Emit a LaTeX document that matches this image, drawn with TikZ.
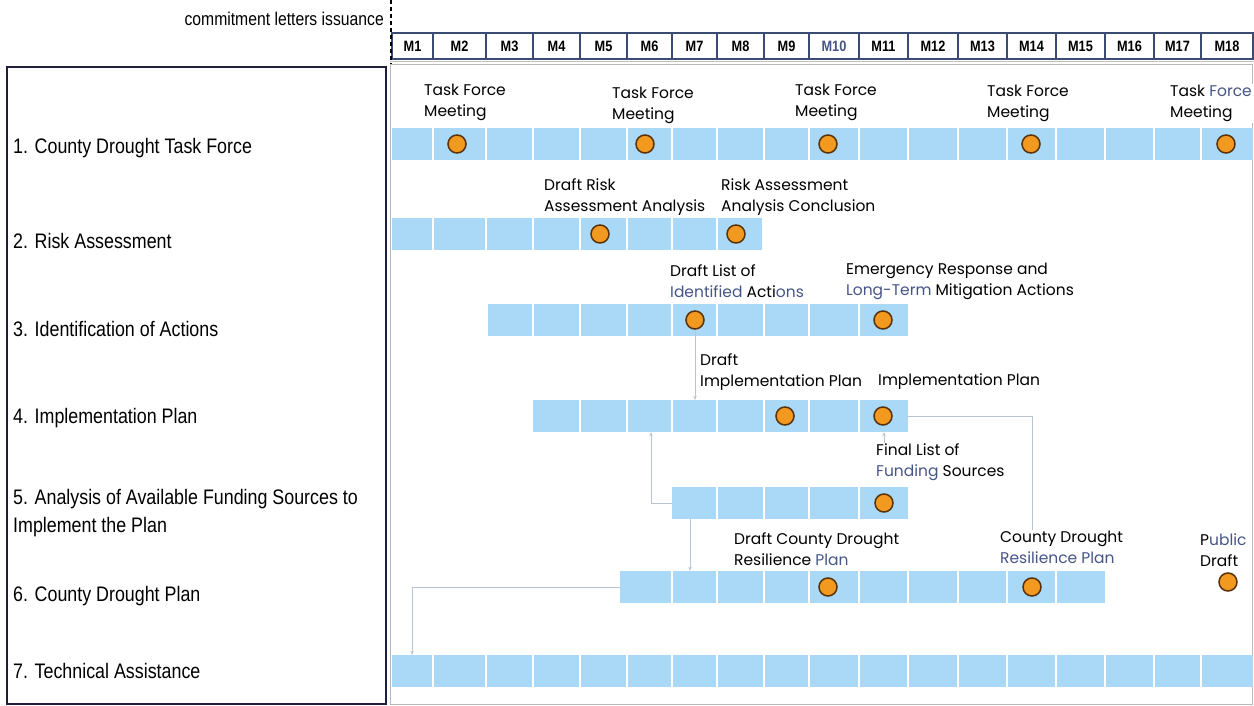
\documentclass[tikz,border=0pt]{standalone}
\usepackage{fontspec}
\setmainfont{Liberation Sans}
\newfontfamily\condf[FakeStretch=0.85]{Liberation Sans}
\newfontfamily\lblf{Poppins}
\usetikzlibrary{arrows.meta,backgrounds}
\definecolor{barblue}{RGB}{170,217,247}
\definecolor{msorange}{RGB}{242,154,31}
\definecolor{msbrown}{RGB}{90,50,8}
\definecolor{headline}{RGB}{60,75,115}
\definecolor{conncol}{RGB}{185,195,210}
\definecolor{faintcol}{RGB}{228,232,236}
\definecolor{lblue}{RGB}{70,85,135}
\definecolor{boxcol}{RGB}{30,30,60}
\begin{document}
\begin{tikzpicture}[x=1pt,y=-1pt,
  bar/.style={fill=barblue, draw=none, inner sep=0pt, minimum height=32pt, anchor=west},
  ms/.style={circle, fill=msorange, draw=msbrown, line width=1.5pt, minimum size=18pt, inner sep=0pt},
  lbl/.style={anchor=west, align=left, font=\lblf\fontsize{15.5}{21}\selectfont, inner sep=1pt, fill=white},
  task/.style={anchor=west, align=left, font=\condf\fontsize{21}{28}\selectfont, inner sep=0pt},
  hcell/.style={draw=headline, line width=1.1pt, fill=white, inner sep=0pt, minimum height=26pt, font=\condf\bfseries\fontsize{15}{15}\selectfont},
  conn/.style={draw=conncol, line width=0.9pt},
  arr/.style={conn, -{Stealth[length=4pt,width=3.5pt]}},
  faint/.style={draw=faintcol, line width=0.8pt},
  sepline/.style={draw=white, line width=1.5pt}
]
\useasboundingbox[fill=white] (0,0) rectangle (1254,706);

% left box and labels
\node[draw=boxcol, line width=1.8pt, minimum width=379pt, minimum height=637pt, anchor=north west, inner sep=0pt] (lbox) at (6,66) {};
\node[task] (t1) at (13,148) {1. County Drought Task Force};
\node[task] (t2) at (13,241) {2. Risk Assessment};
\node[task] (t3) at (13,329) {3. Identification of Actions};
\node[task] (t4) at (13,418) {4. Implementation Plan};
\node[task] (t5) at (13,513) {5. Analysis of Available Funding Sources to\\Implement the Plan};
\node[task] (t6) at (13,596) {6. County Drought Plan};
\node[task] (t7) at (13,671) {7. Technical Assistance};

% header
\node[anchor=east, font=\condf\fontsize{18.5}{20}\selectfont, inner sep=0pt] (cli) at (384,19) {commitment letters issuance};
\foreach \a/\b/\t [count=\i] in {392/433/M1, 433/486/M2, 486/533/M3, 533/580/M4, 580/627/M5, 627/672/M6, 672/717/M7, 717/764/M8, 764/809/M9, 809/859/{\color{lblue}M10}, 859/908/M11, 908/958/M12, 958/1007/M13, 1007/1056/M14, 1056/1105/M15, 1105/1154/M16, 1154/1201/M17, 1201/1253/M18}
  \node[hcell, minimum width={(\b-\a)*1pt}] (h\i) at ({(\a+\b)/2},46) {\t};
\coordinate (dtop) at (391,0);
\coordinate (dbot) at (391,64);
\draw[dashed, line width=1.3pt, dash pattern=on 4pt off 3pt] (dtop) -- (dbot);

% chart frame
\draw[gray!50, line width=1pt] (390,61.5) -- (1254,61.5);
\draw[gray!55, line width=1pt] (390,65) rectangle (1252,704);

% bars
\node[bar, minimum width=861pt] (b1) at (392,144) {};
\node[bar, minimum width=370pt] (b2) at (392,234) {};
\node[bar, minimum width=420pt] (b3) at (488,320) {};
\node[bar, minimum width=375pt] (b4) at (533,416) {};
\node[bar, minimum width=236pt] (b5) at (672,503) {};
\node[bar, minimum width=485pt] (b6) at (620,587) {};
\node[bar, minimum width=861pt] (b7) at (392,671) {};
\foreach \x in {433,486,533,580,627,672,717,764,809,859,908,958,1007,1056,1105,1154,1201} {
  \draw[sepline] (\x,128) -- (\x,160);
  \draw[sepline] (\x,655) -- (\x,687);
}
\foreach \x in {433,486,533,580,627,672,717} \draw[sepline] (\x,218) -- (\x,250);
\foreach \x in {533,580,627,672,717,764,809,859} \draw[sepline] (\x,304) -- (\x,336);
\foreach \x in {580,627,672,717,764,809,859} \draw[sepline] (\x,400) -- (\x,432);
\foreach \x in {717,764,809,859} \draw[sepline] (\x,487) -- (\x,519);
\foreach \x in {672,717,764,809,859,908,958,1007,1056} \draw[sepline] (\x,571) -- (\x,603);

% milestones
\node[ms] (m1a) at (457,144) {};
\node[ms] (m1b) at (645,144) {};
\node[ms] (m1c) at (828,144) {};
\node[ms] (m1d) at (1031,144) {};
\node[ms] (m1e) at (1226,144) {};
\node[ms] (m2a) at (600,234) {};
\node[ms] (m2b) at (736,234) {};
\node[ms] (m3a) at (695,320) {};
\node[ms] (m3b) at (883,320) {};
\node[ms] (m4a) at (785,416) {};
\node[ms] (m4b) at (883,416) {};
\node[ms] (m5a) at (884,503) {};
\node[ms] (m6a) at (828,587) {};
\node[ms] (m6b) at (1032,587) {};
\node[ms] (m6c) at (1228,582) {};

% milestone labels
\node[lbl] (l1a) at (423,102.5) {Task Force\\Meeting};
\node[lbl] (l1b) at (611,105) {Task Force\\Meeting};
\node[lbl] (l1c) at (794,102.5) {Task Force\\Meeting};
\node[lbl] (l1d) at (986,103.5) {Task Force\\Meeting};
\node[lbl] (l1e) at (1169,103.5) {Task {\color{lblue}Force}\\Meeting};
\node[lbl] (l2a) at (543,197.5) {Draft Risk\\Assessment Analysis};
\node[lbl] (l2b) at (720,197.5) {Risk Assessment\\Analysis Conclusion};
\node[lbl] (l3a) at (669,281) {Draft List of\\{\color{lblue}Identified} Acti{\color{lblue}ons}};
\node[lbl] (l3b) at (845,281) {Emergency Response and\\{\color{lblue}Long-Term} Mitigation Actions};
\node[lbl] (l4a) at (699,372.5) {Draft\\Implementation Plan};
\node[lbl] (l4b) at (877,382) {Implementation Plan};
\node[lbl] (l5a) at (875,462.5) {Final List of\\{\color{lblue}Funding} Sources};
\node[lbl] (l6a) at (733,549.5) {Draft County Drought\\Resilience {\color{lblue}Plan}};
\node[lbl] (l6b) at (999,547.5) {County Drought\\{\color{lblue}Resilience Plan}};
\node[lbl] (l6c) at (1199,550) {P{\color{lblue}ublic}\\Draft};

% connectors
\coordinate (c2) at (651,503);
\coordinate (c3) at (690,519);
\coordinate (c4) at (412,587);
\coordinate (c6) at (1032,416);
\draw[arr] (m3a.south) -- (m3a |- b4.north);
\draw[arr] (b5.west) -- (c2) -- (c2 |- b4.south);
\draw[arr] (c3) -- (c3 |- b6.north);
\draw[arr] (b6.west) -- (c4) -- (c4 |- b7.north);
\draw[arr] (m5a |- l5a.north) -- (m5a |- b4.south);
\draw[conn] (b4.east) -- (c6) -- (c6 |- l6b.north);

\begin{pgfonlayer}{background}
\draw[faint] (m1c.south) -- (m1c |- b7.north);
\draw[faint] (m1d.south) -- (m1d |- l6b.north);
\draw[faint] (m1e.south) -- (m1e |- l6c.north);
\end{pgfonlayer}
\end{tikzpicture}
\end{document}
